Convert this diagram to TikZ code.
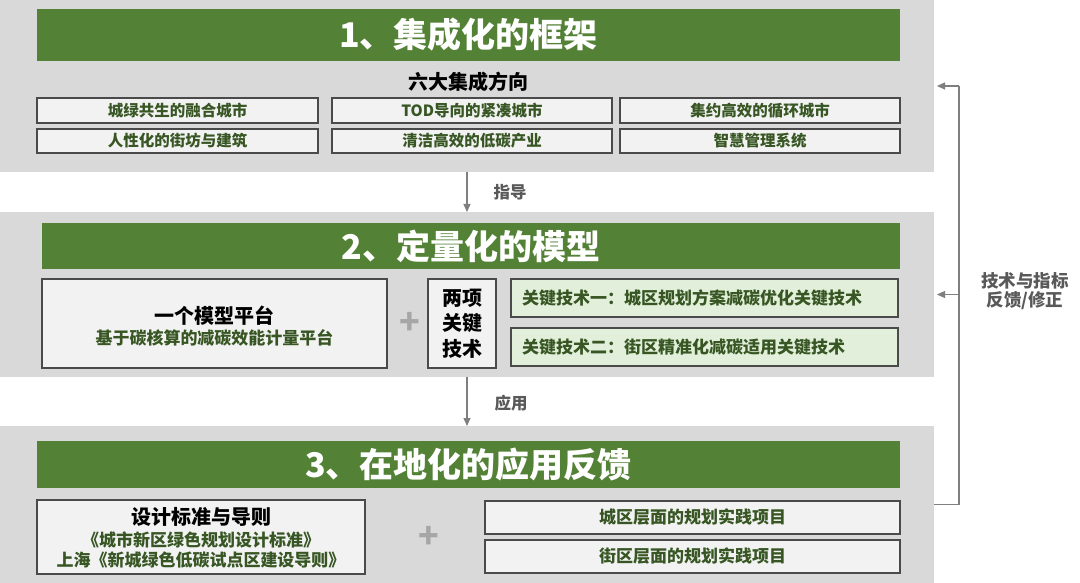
\documentclass[tikz,border=0pt]{standalone}
\usepackage{fontspec}
\setmainfont{Noto Sans CJK SC}
\usetikzlibrary{arrows.meta}
\definecolor{gbar}{HTML}{538135}
\definecolor{gpanel}{HTML}{D9D9D9}
\definecolor{gbox}{HTML}{F2F2F2}
\definecolor{gtxt}{HTML}{375623}
\definecolor{lgreen}{HTML}{E2EFDA}
\definecolor{gline}{HTML}{7F7F7F}
\definecolor{glabel}{HTML}{595959}
\definecolor{gplus}{HTML}{A6A6A6}
\definecolor{gborder}{HTML}{4A4A4A}
\tikzset{
  panel/.style={fill=gpanel, draw=none, inner sep=0pt, outer sep=0pt},
  bar/.style={fill=gbar, draw=none, text=white, inner sep=0pt, font=\bfseries\fontsize{34}{40}\selectfont},
  cell/.style={fill=gbox, draw=gborder, line width=1.1pt, text=gtxt, inner sep=0pt, font=\bfseries\fontsize{15.5}{18}\selectfont},
  bigcell/.style={fill=gbox, draw=gborder, line width=1.1pt, inner sep=0pt},
  keybox/.style={fill=lgreen, draw=gborder, line width=1.1pt, text=gtxt, inner xsep=11pt, inner ysep=0pt, text width=365pt, align=left, font=\bfseries\fontsize{17}{20}\selectfont},
  projbox/.style={fill=gbox, draw=gborder, line width=1.1pt, text=gtxt, inner sep=0pt, font=\bfseries\fontsize{17}{20}\selectfont},
  head/.style={text=black, inner sep=0pt, font=\bfseries\fontsize{20}{24}\selectfont},
  sub/.style={text=gtxt, inner sep=0pt, font=\bfseries\fontsize{17}{20}\selectfont},
  plus/.style={text=gplus, inner sep=0pt, font=\bfseries\fontsize{34}{34}\selectfont},
  lbl/.style={text=glabel, inner sep=0pt, font=\bfseries\fontsize{16.5}{19}\selectfont},
  conn/.style={draw=gline, line width=1.1pt},
  arr/.style={draw=gline, line width=1.1pt, -{Triangle[length=8pt,width=7pt]}}
}
\begin{document}
\begin{tikzpicture}[x=1pt,y=-1pt]
\useasboundingbox[fill=white] (0,0) rectangle (1080,583);
% panels
\node[panel, minimum width=934pt, minimum height=172pt] (p1) at (467,86) {};
\node[panel, minimum width=934pt, minimum height=165pt] (p2) at (467,294.5) {};
\node[panel, minimum width=934pt, minimum height=157pt] (p3) at (467,504.5) {};
% green title bars
\node[bar, minimum width=863pt, minimum height=52pt] (b1) at (468.5,35) {1、集成化的框架};
\node[bar, minimum width=858pt, minimum height=46pt] (b2) at (471,246) {2、定量化的模型};
\node[bar, minimum width=863pt, minimum height=47pt] (b3) at (468.5,464.5) {3、在地化的应用反馈};
% panel 1
\node[head] (h1) at (468,82) {六大集成方向};
\node[cell, minimum width=281pt, minimum height=25pt] (c11) at (177.5,110.5) {城绿共生的融合城市};
\node[cell, minimum width=280pt, minimum height=25pt] (c12) at (472,110.5) {TOD导向的紧凑城市};
\node[cell, minimum width=280pt, minimum height=25pt] (c13) at (760,110.5) {集约高效的循环城市};
\node[cell, minimum width=281pt, minimum height=24pt] (c21) at (177.5,141) {人性化的街坊与建筑};
\node[cell, minimum width=280pt, minimum height=24pt] (c22) at (472,141) {清洁高效的低碳产业};
\node[cell, minimum width=280pt, minimum height=24pt] (c23) at (760,141) {智慧管理系统};
% panel 2
\node[bigcell, minimum width=345pt, minimum height=89pt] (ma) at (214.5,323.5) {};
\node[head] (mat) at (214.5,316) {一个模型平台};
\node[sub] (mas) at (214.5,338) {基于碳核算的减碳效能计量平台};
\node[plus] (pl1) at (410,323) {+};
\node[bigcell, minimum width=68pt, minimum height=89pt, align=center, font=\bfseries\fontsize{20}{25.5}\selectfont] (mb) at (462,323.5) {两项\\关键\\技术};
\node[keybox, minimum height=38pt] (k1) at (704.5,298) {关键技术一：城区规划方案减碳优化关键技术};
\node[keybox, minimum height=38pt] (k2) at (704.5,347) {关键技术二：街区精准化减碳适用关键技术};
% panel 3
\node[bigcell, minimum width=328pt, minimum height=74pt] (d) at (201,537) {};
\node[head] (dt) at (201,517) {设计标准与导则};
\node[sub] (ds1) at (201,540) {《城市新区绿色规划设计标准》};
\node[sub] (ds2) at (201,560) {上海《新城绿色低碳试点区建设导则》};
\node[plus] (pl2) at (429,537) {+};
\node[projbox, minimum width=415pt, minimum height=33pt] (e1) at (692.5,517.5) {城区层面的规划实践项目};
\node[projbox, minimum width=415pt, minimum height=33pt] (e2) at (692.5,556.5) {街区层面的规划实践项目};
% down arrows
\draw[arr] (p1.south) -- (p2.north);
\draw[arr] (p2.south) -- (p3.north);
\node[lbl] (l1) at (510,192) {指导};
\node[lbl] (l2) at (511,403) {应用};
% feedback loop
\coordinate (fbtop) at (959,86);
\coordinate (fbmid) at (959,294.5);
\draw[conn] (p3.east) -| (fbtop);
\draw[arr, shorten >=3pt] (fbtop) -- (fbtop -| p1.east);
\draw[arr, shorten >=3pt] (fbmid) -- (p2.east);
\node[lbl, align=center, font=\bfseries\fontsize{17.5}{19}\selectfont] (l3) at (1025,291.5) {技术与指标\\反馈/修正};
\end{tikzpicture}
\end{document}
